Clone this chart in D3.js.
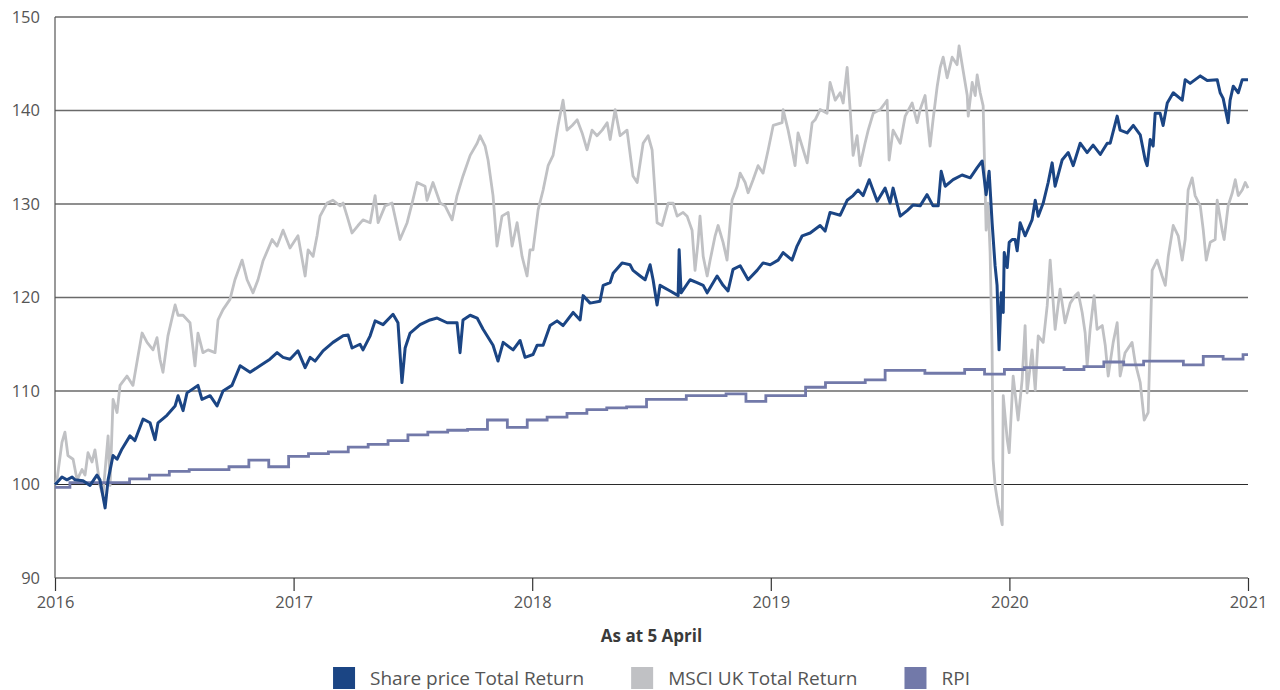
<!DOCTYPE html>
<html>
<head>
<meta charset="utf-8">
<script src="https://cdn.jsdelivr.net/npm/d3@7"></script>
<style>
  body { margin: 0; background: #fff; }
  svg { font-family: "Open Sans", Lato, sans-serif; }
</style>
</head>
<body>
<svg id="chart"></svg>
<script>
var width = 1280;
var height = 690;

// months after 5 April 2016, index value (5 April 2016 = 100)
var shareData = [
  [0,100.0],[0.10,100.2],[0.35,100.8],[0.60,100.5],[0.86,100.8],[1.01,100.5],[1.41,100.4],[1.76,99.9],
  [2.11,101.0],[2.26,100.5],[2.52,97.5],[2.67,100.5],[2.92,103.1],[3.12,102.7],[3.37,103.8],[3.77,105.2],
  [4.02,104.7],[4.43,107.0],[4.78,106.6],[5.03,104.8],[5.18,106.6],[5.63,107.4],[6.04,108.4],[6.19,109.5],
  [6.44,107.9],[6.64,109.8],[7.19,110.6],[7.39,109.1],[7.80,109.5],[8.15,108.4],[8.45,110.0],[8.90,110.6],
  [9.31,112.7],[9.81,112.0],[10.31,112.7],[10.81,113.4],[11.17,114.1],[11.47,113.6],[11.82,113.4],[12.22,114.3],
  [12.58,112.5],[12.83,113.6],[13.08,113.2],[13.48,114.3],[13.98,115.2],[14.49,115.9],[14.74,116.0],[14.94,114.6],
  [15.34,115.0],[15.49,114.4],[15.85,115.9],[16.10,117.5],[16.50,117.1],[17.00,118.2],[17.25,117.3],[17.45,110.9],
  [17.61,114.6],[17.86,116.2],[18.36,117.1],[18.86,117.6],[19.22,117.8],[19.72,117.3],[20.22,117.3],[20.37,114.1],
  [20.52,117.6],[20.88,118.1],[21.23,117.8],[21.53,116.6],[22.03,114.9],[22.28,113.2],[22.54,115.2],[23.04,114.4],
  [23.39,115.4],[23.64,113.6],[24.04,113.9],[24.25,114.9],[24.55,114.9],[24.90,117.0],[25.25,117.5],[25.55,117.0],
  [26.06,118.4],[26.41,117.6],[26.56,120.2],[26.91,119.4],[27.41,119.6],[27.57,121.3],[27.92,121.6],[28.07,122.6],
  [28.52,123.7],[28.92,123.5],[29.07,122.9],[29.43,122.3],[29.68,121.9],[29.93,123.5],[30.08,121.9],[30.28,119.2],
  [30.43,121.3],[30.94,120.7],[31.34,120.2],[31.39,125.1],[31.49,120.5],[31.94,121.9],[32.29,121.6],[32.60,121.3],
  [32.80,120.5],[33.30,122.3],[33.60,121.3],[33.85,120.7],[34.10,123.0],[34.46,123.4],[34.86,121.9],[35.31,122.9],
  [35.61,123.7],[35.97,123.5],[36.37,124.0],[36.62,124.8],[37.07,124.0],[37.32,125.5],[37.58,126.6],[37.98,126.9],
  [38.48,127.7],[38.73,127.1],[38.98,129.1],[39.49,128.8],[39.84,130.4],[40.14,130.9],[40.39,131.5],[40.64,130.9],
  [40.95,132.6],[41.35,130.3],[41.75,131.7],[42.00,130.1],[42.15,131.7],[42.51,128.7],[42.86,129.3],[43.16,129.9],
  [43.51,129.8],[43.86,131.0],[44.16,129.8],[44.42,129.8],[44.57,133.5],[44.77,131.9],[45.17,132.6],[45.62,133.1],
  [46.03,132.8],[46.38,133.9],[46.63,134.6],[46.83,131.0],[46.98,133.5],[47.13,128.0],[47.28,123.4],[47.38,121.3],
  [47.48,114.4],[47.59,120.5],[47.69,118.4],[47.74,124.8],[47.89,123.2],[47.99,125.9],[48.14,126.2],[48.29,126.2],
  [48.39,125.0],[48.54,128.0],[48.79,126.6],[49.14,128.3],[49.30,130.4],[49.45,128.7],[49.70,130.1],[49.95,132.3],
  [50.15,134.4],[50.30,131.9],[50.65,134.7],[50.96,135.5],[51.21,134.1],[51.56,136.5],[51.91,135.5],[52.21,136.3],
  [52.57,135.3],[52.92,136.5],[53.07,136.5],[53.42,139.4],[53.57,137.9],[53.92,137.6],[54.23,138.4],[54.58,137.4],
  [54.83,134.7],[54.93,134.1],[55.08,136.9],[55.23,136.2],[55.33,139.7],[55.58,139.7],[55.73,138.4],[55.94,140.8],
  [56.24,141.9],[56.69,141.1],[56.84,143.3],[57.09,142.9],[57.60,143.7],[57.95,143.2],[58.45,143.3],[58.60,141.9],
  [58.75,141.3],[59.00,138.7],[59.10,141.1],[59.26,142.6],[59.51,141.9],[59.71,143.3],[60.00,143.3]
];

var msciData = [
  [0,100.0],[0.10,100.5],[0.35,104.5],[0.50,105.6],[0.65,103.1],[0.91,102.7],[1.11,100.5],[1.36,101.6],
  [1.51,101.0],[1.66,103.4],[1.86,102.4],[2.01,103.7],[2.26,99.9],[2.41,98.8],[2.67,105.2],[2.77,99.9],
  [2.92,109.1],[3.12,107.7],[3.27,110.6],[3.62,111.6],[3.92,110.6],[4.18,113.8],[4.38,116.2],[4.63,115.2],
  [4.93,114.4],[5.13,115.7],[5.28,113.4],[5.43,112.0],[5.68,115.9],[6.04,119.2],[6.19,118.1],[6.44,118.1],
  [6.79,117.3],[7.04,112.7],[7.19,116.2],[7.44,114.1],[7.70,114.4],[8.05,114.1],[8.20,117.6],[8.45,118.7],
  [8.80,119.8],[9.05,121.9],[9.41,124.0],[9.66,121.9],[9.96,120.5],[10.21,121.9],[10.46,123.9],[10.92,126.2],
  [11.17,125.5],[11.47,127.2],[11.82,125.3],[12.22,126.6],[12.58,122.3],[12.73,125.1],[12.98,124.4],[13.18,126.6],
  [13.33,128.7],[13.68,130.1],[13.98,130.4],[14.34,129.8],[14.49,130.1],[14.69,128.7],[14.94,126.9],[15.24,127.7],
  [15.49,128.3],[15.85,128.0],[16.10,130.9],[16.25,128.0],[16.60,129.8],[16.95,130.1],[17.35,126.2],[17.71,128.0],
  [17.96,130.1],[18.21,132.3],[18.61,131.9],[18.71,130.4],[19.01,132.3],[19.37,130.1],[19.62,129.8],[19.97,128.3],
  [20.22,130.9],[20.52,133.0],[20.88,135.2],[21.23,136.5],[21.38,137.3],[21.63,136.2],[21.78,134.7],[22.03,130.9],
  [22.23,125.5],[22.48,128.7],[22.79,129.1],[22.99,125.5],[23.24,128.0],[23.49,124.4],[23.74,122.3],[23.89,125.1],
  [24.04,125.1],[24.30,129.4],[24.55,131.5],[24.80,134.1],[25.05,135.2],[25.30,138.4],[25.55,141.1],[25.75,137.9],
  [26.01,138.4],[26.26,139.0],[26.51,137.6],[26.76,135.8],[27.01,137.9],[27.26,137.3],[27.52,137.9],[27.77,138.7],
  [27.92,136.9],[28.17,140.1],[28.42,137.3],[28.77,137.9],[29.07,133.0],[29.28,132.3],[29.58,136.5],[29.83,137.3],
  [30.03,135.8],[30.28,128.0],[30.53,127.7],[30.84,130.1],[31.09,130.1],[31.29,128.7],[31.59,129.1],[31.79,128.7],
  [32.04,127.2],[32.19,122.9],[32.34,125.9],[32.44,128.7],[32.60,124.4],[32.80,122.3],[32.95,124.0],[33.20,126.6],
  [33.35,127.7],[33.60,125.9],[33.80,124.0],[34.05,130.4],[34.31,131.9],[34.46,133.3],[34.71,132.3],[34.86,131.2],
  [35.11,132.6],[35.36,134.1],[35.61,133.3],[35.87,135.8],[36.12,138.4],[36.57,138.7],[36.62,140.1],[36.87,137.9],
  [37.07,135.8],[37.22,134.1],[37.37,137.6],[37.63,135.8],[37.83,134.4],[38.08,138.7],[38.23,139.0],[38.48,140.1],
  [38.83,139.7],[38.98,143.0],[39.24,141.1],[39.49,141.9],[39.64,140.8],[39.84,144.6],[39.99,140.1],[40.14,135.2],
  [40.34,137.3],[40.49,134.1],[40.74,136.5],[40.90,137.9],[41.15,139.7],[41.50,140.1],[41.75,140.8],[41.85,141.1],
  [41.95,134.7],[42.15,137.9],[42.51,136.5],[42.76,139.4],[43.11,140.8],[43.36,138.7],[43.51,140.1],[43.76,141.6],
  [44.01,136.2],[44.16,139.0],[44.37,142.6],[44.52,144.6],[44.67,145.7],[44.87,143.5],[45.12,145.7],[45.37,144.9],
  [45.47,146.9],[45.67,144.3],[45.88,141.6],[45.93,139.4],[46.13,143.0],[46.28,141.6],[46.38,143.8],[46.53,141.9],
  [46.68,140.5],[46.83,127.2],[46.93,130.1],[47.03,124.8],[47.13,114.4],[47.18,102.7],[47.28,99.9],[47.43,97.8],
  [47.64,95.7],[47.69,109.5],[47.89,104.8],[47.99,103.4],[48.19,111.6],[48.44,106.9],[48.64,111.2],[48.79,117.0],
  [48.89,109.8],[49.14,114.4],[49.30,110.1],[49.45,115.9],[49.70,115.2],[49.90,119.1],[50.05,124.0],[50.30,116.6],
  [50.55,120.9],[50.80,117.3],[51.06,119.4],[51.31,120.2],[51.46,120.5],[51.66,118.4],[51.81,116.2],[51.91,112.7],
  [52.06,116.6],[52.26,120.2],[52.41,116.6],[52.67,117.0],[52.82,114.9],[52.97,111.6],[53.22,115.2],[53.42,117.3],
  [53.57,111.6],[53.82,114.1],[54.17,115.2],[54.33,113.0],[54.58,110.9],[54.78,106.9],[54.98,107.7],[55.18,122.9],
  [55.43,124.0],[55.68,122.3],[55.84,121.3],[55.99,124.4],[56.24,127.7],[56.49,126.6],[56.69,124.0],[56.84,126.2],
  [56.99,131.5],[57.19,132.8],[57.34,130.9],[57.60,129.8],[57.75,127.2],[57.90,124.0],[58.10,125.9],[58.35,126.2],
  [58.45,130.4],[58.70,127.2],[58.80,126.2],[59.00,129.8],[59.21,131.2],[59.36,132.6],[59.51,130.9],[59.71,131.5],
  [59.86,132.3],[60.00,131.7]
];

// RPI, one value per month from April 2016 to April 2021
var rpiValues = [
  99.7,100.2,100.2,100.2,100.6,101.0,101.4,101.6,101.6,101.9,102.6,101.9,
  103.0,103.3,103.5,104.0,104.3,104.7,105.3,105.6,105.8,105.9,106.9,106.1,
  106.9,107.2,107.6,108.0,108.2,108.3,109.1,109.1,109.5,109.5,109.7,108.9,
  109.5,109.5,110.4,110.9,110.9,111.2,112.2,112.2,111.9,111.9,112.3,111.8,
  112.3,112.5,112.5,112.3,112.6,113.1,112.8,113.2,113.2,112.8,113.7,113.4,
  113.9
];
var rpiLag = 0.25; // monthly figures show up just before each month mark

var yTicks = [90, 100, 110, 120, 130, 140, 150];
var yearTicks = [2016, 2017, 2018, 2019, 2020, 2021];

var seriesNames = ["Share price Total Return", "MSCI UK Total Return", "RPI"];
var seriesColors = ["#1b4584", "#c0c1c4", "#7279a9"];

var plotLeft = 55, plotRight = 1248, plotTop = 17, plotBottom = 578;

var svg = d3.select("#chart")
  .attr("width", width)
  .attr("height", height);

var x = d3.scaleLinear().domain([0, 60]).range([plotLeft, plotRight]);
var y = d3.scaleLinear().domain([90, 150]).range([plotBottom, plotTop]);

// gridlines
svg.append("g")
  .selectAll("line")
  .data(yTicks)
  .enter().append("line")
  .attr("x1", plotLeft)
  .attr("x2", plotRight)
  .attr("y1", function(d) { return y(d); })
  .attr("y2", function(d) { return y(d); })
  .attr("stroke", function(d) { return d <= 100 ? "#2b2b2b" : "#6a6a6a"; })
  .attr("stroke-width", function(d) { return d <= 100 ? 1.2 : 1.6; });

// y axis labels
svg.append("g")
  .selectAll("text")
  .data(yTicks)
  .enter().append("text")
  .attr("x", 40)
  .attr("y", function(d) { return y(d); })
  .attr("dy", "0.35em")
  .attr("text-anchor", "end")
  .attr("font-size", 16.5)
  .attr("fill", "#555")
  .text(function(d) { return d; });

// left axis line
svg.append("line")
  .attr("x1", plotLeft).attr("x2", plotLeft)
  .attr("y1", plotTop).attr("y2", plotBottom)
  .attr("stroke", "#555")
  .attr("stroke-width", 1.2);

// x axis
var xAxis = d3.axisBottom(x)
  .tickValues(yearTicks.map(function(yr) { return (yr - 2016) * 12; }))
  .tickFormat(function(m) { return 2016 + m / 12; })
  .tickSize(13)
  .tickPadding(5);

var gx = svg.append("g")
  .attr("transform", "translate(0," + plotBottom + ")")
  .call(xAxis);
gx.select(".domain").remove();
gx.selectAll(".tick line").attr("stroke", "#333").attr("stroke-width", 1.2);
gx.selectAll(".tick text")
  .attr("font-size", 16.5)
  .attr("font-family", "'Open Sans', Lato, sans-serif")
  .attr("fill", "#555");

svg.append("text")
  .attr("x", (plotLeft + plotRight) / 2)
  .attr("y", 642)
  .attr("text-anchor", "middle")
  .attr("font-size", 17)
  .attr("font-weight", "bold")
  .attr("fill", "#3a3a3a")
  .text("As at 5 April");

// lines
var line = d3.line()
  .x(function(d) { return x(d[0]); })
  .y(function(d) { return y(d[1]); });

var rpiData = rpiValues.map(function(v, k) {
  return [k === 0 ? 0 : k - rpiLag, v];
});
rpiData.push([60, rpiValues[rpiValues.length - 1]]);

var stepLine = d3.line()
  .curve(d3.curveStepAfter)
  .x(function(d) { return x(d[0]); })
  .y(function(d) { return y(d[1]); });

svg.append("path")
  .datum(msciData)
  .attr("d", line)
  .attr("fill", "none")
  .attr("stroke", seriesColors[1])
  .attr("stroke-width", 2.8)
  .attr("stroke-linejoin", "round");

svg.append("path")
  .datum(rpiData)
  .attr("d", stepLine)
  .attr("fill", "none")
  .attr("stroke", seriesColors[2])
  .attr("stroke-width", 2.8);

svg.append("path")
  .datum(shareData)
  .attr("d", line)
  .attr("fill", "none")
  .attr("stroke", seriesColors[0])
  .attr("stroke-width", 3)
  .attr("stroke-linejoin", "round");

// legend
var legend = svg.append("g");
var items = legend.selectAll("g")
  .data(seriesNames)
  .enter().append("g");

items.append("rect")
  .attr("width", 22)
  .attr("height", 22)
  .attr("y", 667)
  .attr("fill", function(d, i) { return seriesColors[i]; });

items.append("text")
  .attr("x", 37)
  .attr("y", 685)
  .attr("font-size", 19)
  .attr("fill", "#555")
  .text(function(d) { return d; });

var pos = 0;
var offsets = [];
items.each(function() {
  var w = 37 + d3.select(this).select("text").node().getComputedTextLength();
  offsets.push(pos);
  pos += w + 47;
});
var total = pos - 47;
var start = (plotLeft + plotRight) / 2 - total / 2;
items.attr("transform", function(d, i) { return "translate(" + (start + offsets[i]) + ",0)"; });
</script>
</body>
</html>
